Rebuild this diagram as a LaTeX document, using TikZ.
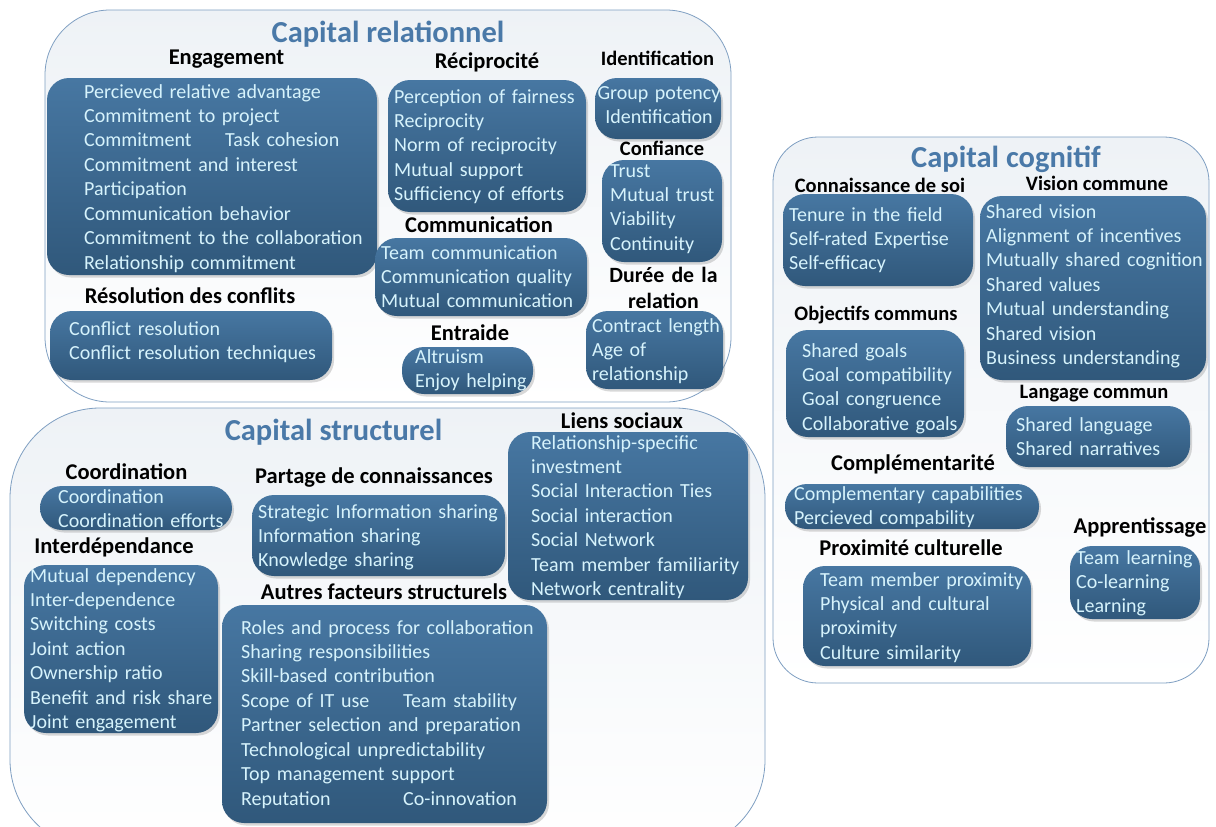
\documentclass[tikz,border=0pt]{standalone}
\usepackage{fontspec}
\setmainfont{Carlito}
\usetikzlibrary{fit,shadows}
\definecolor{boxtop}{HTML}{4777A2}
\definecolor{boxbot}{HTML}{30587B}
\definecolor{boxtext}{HTML}{D6F3FC}
\definecolor{titleblue}{HTML}{4A79A8}
\definecolor{contline}{HTML}{7F9FC2}
\definecolor{conttop}{HTML}{EEF2F6}
\begin{document}
\begin{tikzpicture}[x=1pt,y=-1pt,
 cont/.style={draw=contline, line width=0.8pt, top color=conttop, bottom color=white},
 bx/.style={rounded corners=22pt, top color=boxtop, bottom color=boxbot, draw=none, inner sep=0pt,
   drop shadow={opacity=0.3, shadow xshift=2pt, shadow yshift=-2.5pt}},
 txt/.style={anchor=base west, text=boxtext, font=\fontsize{20}{24.45}\selectfont, align=left, text width=380pt, inner sep=0pt},
 head/.style={anchor=base, font=\bfseries\fontsize{22.5}{26}\selectfont, inner sep=0pt},
 heads/.style={head, font=\bfseries\fontsize{20.5}{26}\selectfont},
 ttl/.style={anchor=base, text=titleblue, font=\bfseries\fontsize{30.5}{34}\selectfont, inner sep=0pt}]
\useasboundingbox (0,0) rectangle (1216,827);
\clip (0,0) rectangle (1216,827);
\fill[white] (0,0) rectangle (1216,827);

% containers
\path[cont, rounded corners=65pt] (45,10) rectangle (731,402);
\path[cont, rounded corners=90pt] (10,408) rectangle (765,850);
\path[cont, rounded corners=45pt] (773,137) rectangle (1209,683);

\node[ttl] (trel) at (388,42) {Capital relationnel};
\node[ttl] (tcog) at (1006,167) {Capital cognitif};
\node[ttl] (tstr) at (333.5,440) {Capital structurel};

% ---------- Capital relationnel ----------
\node[head] (heng) at (226.5,64) {Engagement};
\node[bx, fit={(47,78) (377,275)}] (beng) {};
\node[txt] (teng) at (84,98) {Percieved relative advantage\\Commitment to project\\\makebox[141pt][l]{Commitment}Task cohesion\\Commitment and interest\\Participation\\Communication behavior\\Commitment to the collaboration\\Relationship commitment};

\node[head] (hres) at (190,303) {Résolution des conflits};
\node[bx, fit={(50,311) (332,380)}] (bres) {};
\node[txt] (tres) at (69,335) {Conflict resolution\\Conflict resolution techniques};

\node[head] (hrec) at (487,68) {Réciprocité};
\node[bx, fit={(388,80) (586,212)}] (brec) {};
\node[txt] (trec) at (394,103) {Perception of fairness\\Reciprocity\\Norm of reciprocity\\Mutual support\\Sufficiency of efforts};

\node[head] (hcom) at (479,232) {Communication};
\node[bx, fit={(375,238) (587,316)}] (bcom) {};
\node[txt] (tcom) at (381,259) {Team communication\\Communication quality\\Mutual communication};

\node[head] (hent) at (470,340) {Entraide};
\node[bx, fit={(402,347) (533,394)}] (bent) {};
\node[txt] (tent) at (415,363) {Altruism\\Enjoy helping};

\node[heads] (hide) at (657.5,65) {Identification};
\node[bx, fit={(595,78) (721,139)}] (bide) {};
\node[txt, anchor=base, align=center, text width=130pt] (tide) at (659,99) {Group potency\\Identification};

\node[heads] (hcon) at (662,155) {Confiance};
\node[bx, fit={(602,160) (722,262)}] (bcon) {};
\node[txt] (tcon) at (610,177) {Trust\\Mutual trust\\Viability\\Continuity};

\node[head, align=center, text width=130pt, font=\bfseries\fontsize{21.8}{26}\selectfont] (hdur) at (663.5,282) {Durée de la\\relation};
\node[bx, fit={(586,311) (723,389)}] (bdur) {};
\node[txt] (tdur) at (592,332) {Contract length\\Age of\\relationship};

% ---------- Capital cognitif ----------
\node[heads] (hsoi) at (880,192) {Connaissance de soi};
\node[bx, fit={(783,194) (973,286)}] (bsoi) {};
\node[txt] (tsoi) at (789,221) {Tenure in the field\\Self-rated Expertise\\Self-efficacy};

\node[heads] (hvis) at (1097,190) {Vision commune};
\node[bx, fit={(980,196) (1206,380)}] (bvis) {};
\node[txt] (tvis) at (986,218) {Shared vision\\Alignment of incentives\\Mutually shared cognition\\Shared values\\Mutual understanding\\Shared vision\\Business understanding};

\node[heads] (hobj) at (876,320) {Objectifs communs};
\node[bx, fit={(786,330) (964,437)}] (bobj) {};
\node[txt] (tobj) at (802,357) {Shared goals\\Goal compatibility\\Goal congruence\\Collaborative goals};

\node[heads] (hlan) at (1094,398) {Langage commun};
\node[bx, fit={(1006,406) (1190,467)}] (blan) {};
\node[txt] (tlan) at (1016,431) {Shared language\\Shared narratives};

\node[head] (hcpl) at (913,470) {Complémentarité};
\node[bx, fit={(785,484) (1039,529)}] (bcpl) {};
\node[txt] (tcpl) at (794,500) {Complementary capabilities\\Percieved compability};

\node[head] (happ) at (1140,533) {Apprentissage};
\node[bx, fit={(1070,546) (1200,619)}] (bapp) {};
\node[txt] (tapp) at (1076,564) {Team learning\\Co-learning\\Learning};

\node[head] (hpro) at (911,555) {Proximité culturelle};
\node[bx, fit={(803,566) (1031,666)}] (bpro) {};
\node[txt] (tpro) at (820,586) {Team member proximity\\Physical and cultural\\proximity\\Culture similarity};

% ---------- Capital structurel ----------
\node[head] (hcoo) at (126.5,479) {Coordination};
\node[bx, fit={(40,486) (232,530)}] (bcoo) {};
\node[txt] (tcoo) at (58,503) {Coordination\\Coordination efforts};

\node[head] (hint) at (114,553) {Interdépendance};
\node[bx, fit={(24,565) (218,733)}] (bint) {};
\node[txt] (tint) at (30,582) {Mutual dependency\\Inter-dependence\\Switching costs\\Joint action\\Ownership ratio\\Benefit and risk share\\Joint engagement};

\node[head] (hpar) at (374,483) {Partage de connaissances};
\node[bx, fit={(252,495) (505,576)}] (bpar) {};
\node[txt] (tpar) at (258,518) {Strategic Information sharing\\Information sharing\\Knowledge sharing};

\node[head] (haut) at (384,599) {Autres facteurs structurels};
\node[bx, fit={(222,605) (547,823)}] (baut) {};
\node[txt] (taut) at (241,634) {Roles and process for collaboration\\Sharing responsibilities\\Skill-based contribution\\\makebox[162pt][l]{Scope of IT use}Team stability\\Partner selection and preparation\\Technological unpredictability\\Top management support\\\makebox[162pt][l]{Reputation}Co-innovation};

\node[head] (hlie) at (622,428) {Liens sociaux};
\node[bx, fit={(508,432) (748,600)}] (blie) {};
\node[txt] (tlie) at (531,449) {Relationship-specific\\investment\\Social Interaction Ties\\Social interaction\\Social Network\\Team member familiarity\\Network centrality};
\end{tikzpicture}
\end{document}
